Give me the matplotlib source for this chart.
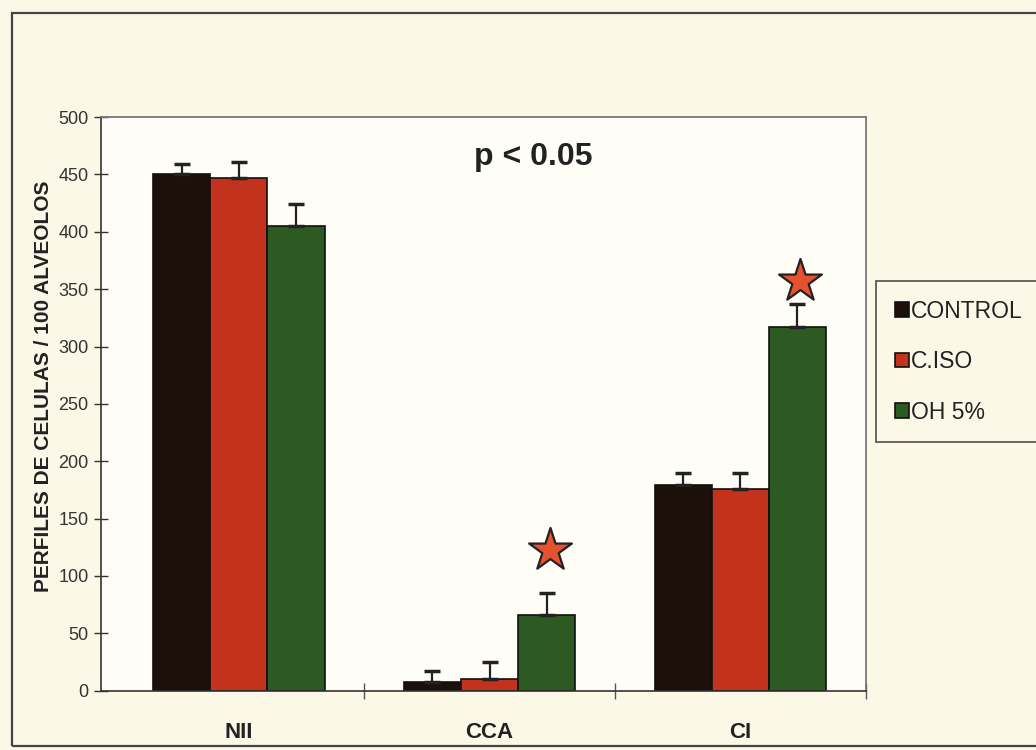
import matplotlib
matplotlib.use("Agg")
import matplotlib.pyplot as plt
from matplotlib.patches import Rectangle
import numpy as np

plt.rcParams["font.family"] = ["Liberation Sans", "DejaVu Sans"]

categories = ["NII", "CCA", "CI"]
groups = ["CONTROL", "C.ISO", "OH 5%"]
control = [450, 8, 179]
ciso = [447, 10, 176]
oh5 = [405, 66, 317]
control_err = [9, 9, 11]
ciso_err = [14, 15, 14]
oh5_err = [19, 19, 20]
star_cats = [1, 2]          # categories marked significant
star_y = [123, 357]
colors = ["#1c100b", "#c3321c", "#2c5a22"]

fig = plt.figure(figsize=(10.36, 7.5), dpi=100, facecolor="#fbf8e7")
# outer page frame
fig.patches.append(Rectangle((0.012, 0.006), 1.2, 0.977, transform=fig.transFigure,
                             fill=False, ec="#444444", lw=1.6))
ax = fig.add_axes([0.0975, 0.079, 0.738, 0.765], facecolor="#fffef6")

x = np.arange(len(categories))
w = 0.228
series = [control, ciso, oh5]
errs = [control_err, ciso_err, oh5_err]
for i, (vals, err) in enumerate(zip(series, errs)):
    pos = x + (i - 1) * w
    ax.bar(pos, vals, width=w, color=colors[i], edgecolor="#111111", lw=1.2,
           label=groups[i], zorder=2)
    ax.errorbar(pos, vals, yerr=[np.zeros(len(err)), err], fmt="none",
                ecolor="#222222", elinewidth=1.6, capsize=6, capthick=2.5, zorder=3)

ax.scatter(x[star_cats] + w * 1.05, star_y, marker="*", s=1050, color="#e4522f",
           edgecolor="#222222", lw=1.6, zorder=4, clip_on=False)

ax.text(0.565, 0.93, "p < 0.05", transform=ax.transAxes, ha="center", va="center",
        fontsize=23, fontweight="bold", color="#222222")

ax.set_xlim(-0.55, 2.49)
ax.set_ylim(0, 500)
ax.set_yticks(range(0, 501, 50))
ax.tick_params(axis="y", direction="inout", length=10, width=1, labelsize=13,
               colors="#333333", pad=4)
ax.set_xticks(np.arange(0.5, 2.6, 1))
ax.set_xticklabels([])
ax.tick_params(axis="x", direction="inout", length=12, width=1, colors="#555555")
for xi, c in zip(x, categories):
    ax.text(xi, -36, c, ha="center", va="center", fontsize=16, fontweight="bold",
            color="#222222")
ax.set_ylabel("PERFILES DE CELULAS / 100 ALVEOLOS", fontsize=15, fontweight="bold",
              color="#222222")
ax.yaxis.set_label_coords(-0.063, 0.53)
for s in ["top", "right"]:
    ax.spines[s].set_color("#777777")
    ax.spines[s].set_linewidth(1.3)
for s in ["left", "bottom"]:
    ax.spines[s].set_color("#333333")
    ax.spines[s].set_linewidth(1.2)

leg = fig.legend(loc="upper left", bbox_to_anchor=(0.846, 0.625), frameon=True,
                 fancybox=False, edgecolor="#333333", facecolor="#fbf8e7",
                 fontsize=16.5, handlelength=0.6, handleheight=0.6, handletextpad=0.1,
                 labelspacing=1.2, borderpad=0.8, borderaxespad=0)
leg.get_frame().set_linewidth(1.3)
for t in leg.get_texts():
    t.set_color("#222222")

fig.savefig("out.png", dpi=100, facecolor=fig.get_facecolor())
